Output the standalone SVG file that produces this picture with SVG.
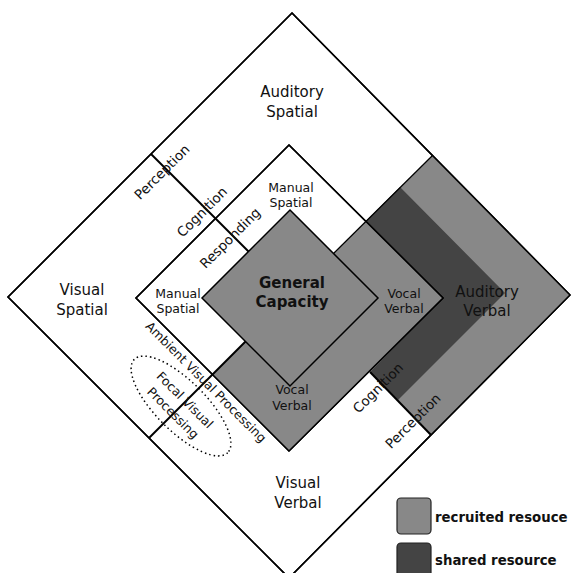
<svg xmlns="http://www.w3.org/2000/svg" width="571" height="573" viewBox="0 0 571 573">
<style>
text{font-family:"DejaVu Sans","Liberation Sans",sans-serif;fill:#111;text-anchor:middle}
.big{font-size:15px}
.mid{font-size:12.5px}
.rot{font-size:13.5px}
.bold{font-weight:bold}
.edge{stroke:#000;stroke-width:1.5;stroke-linejoin:miter}
.thin{stroke:#000;stroke-width:1.2;fill:none}
.div{stroke:#000;stroke-width:2;fill:none}
.lg{fill:#888888}
.dk{fill:#444444}
</style>
<rect width="571" height="573" fill="#fff"/>
<g id="outer">
<polygon points="292,13 570,295 289,578 8,297" fill="#fff" class="edge"/>
<polygon class="lg" points="365.5,221.5 433,155 570,295 431,435 370,372 443,298"/>
<polygon class="dk" points="365.5,221.5 400,187 505,293 398,400 370,372 443,298"/>
</g>
<g id="middle">
<polygon points="289,145 443,298 289,451 136,298" fill="#fff" class="edge"/>
<polygon class="lg" points="365.5,221.5 443,298 289,451 212.5,374.5"/>
<polygon points="289,145 443,298 289,451 136,298" fill="none" class="edge"/>
</g>
<g id="general-capacity">
<polygon points="290,210 378,298 290,386 202,298" class="lg edge"/>
<text class="big bold" x="292" y="288">General</text>
<text class="big bold" x="292" y="307">Capacity</text>
</g>
<g id="connectors">
<line class="div" x1="151" y1="154" x2="248.5" y2="251.5"/>
<line class="div" x1="149" y1="438" x2="245.5" y2="341.5"/>
<line class="thin" x1="333.5" y1="253.5" x2="433" y2="155"/>
<line class="div" x1="370" y1="372" x2="431" y2="435"/>
<polygon points="292,13 570,295 289,578 8,297" fill="none" class="edge"/>
</g>
<g id="auditory-spatial"><text class="big" x="292" y="97">Auditory</text><text class="big" x="292" y="117">Spatial</text></g>
<g id="visual-spatial"><text class="big" x="82" y="295">Visual</text><text class="big" x="82" y="315">Spatial</text></g>
<g id="visual-verbal"><text class="big" x="298" y="488">Visual</text><text class="big" x="298" y="508">Verbal</text></g>
<g id="auditory-verbal"><text class="big" x="487" y="297">Auditory</text><text class="big" x="487" y="316">Verbal</text></g>
<g id="manual-spatial-top"><text class="mid" x="291" y="192">Manual</text><text class="mid" x="291" y="207">Spatial</text></g>
<g id="manual-spatial-left"><text class="mid" x="178" y="298">Manual</text><text class="mid" x="178" y="313">Spatial</text></g>
<g id="vocal-verbal-right"><text class="mid" x="404" y="298">Vocal</text><text class="mid" x="404" y="313">Verbal</text></g>
<g id="vocal-verbal-bottom"><text class="mid" x="292" y="394">Vocal</text><text class="mid" x="292" y="410">Verbal</text></g>
<g id="stage-labels">
<text class="rot" transform="translate(162,172) rotate(-45)" dy="0.35em">Perception</text>
<text class="rot" transform="translate(202,212) rotate(-45)" dy="0.35em">Cognition</text>
<text class="rot" transform="translate(230,238) rotate(-45)" dy="0.35em">Responding</text>
<text class="rot" transform="translate(378,388) rotate(-45)" dy="0.35em">Cognition</text>
<text class="rot" transform="translate(413,421) rotate(-45)" dy="0.35em">Perception</text>
<text class="mid" transform="translate(206,382) rotate(45)" dy="0.35em">Ambient Visual Processing</text>
</g>
<g id="focal">
<ellipse cx="0" cy="0" rx="66" ry="25" transform="translate(181,406) rotate(45)" fill="none" stroke="#000" stroke-width="1.5" stroke-dasharray="1.5 3"/>
<text class="mid" transform="translate(185,400) rotate(45)" dy="0.35em">Focal Visual</text>
<text class="mid" transform="translate(173,413) rotate(45)" dy="0.35em">Processing</text>
</g>
<g id="legend">
<rect x="397" y="498" width="34" height="36" rx="4" class="lg" stroke="#222" stroke-width="1.2"/>
<text class="bold" x="435" y="522" style="font-size:13.3px;text-anchor:start">recruited resouce</text>
<rect x="397" y="543" width="34" height="36" rx="4" class="dk" stroke="#222" stroke-width="1.2"/>
<text class="bold" x="435" y="565" style="font-size:13.3px;text-anchor:start">shared resource</text>
</g>
</svg>
